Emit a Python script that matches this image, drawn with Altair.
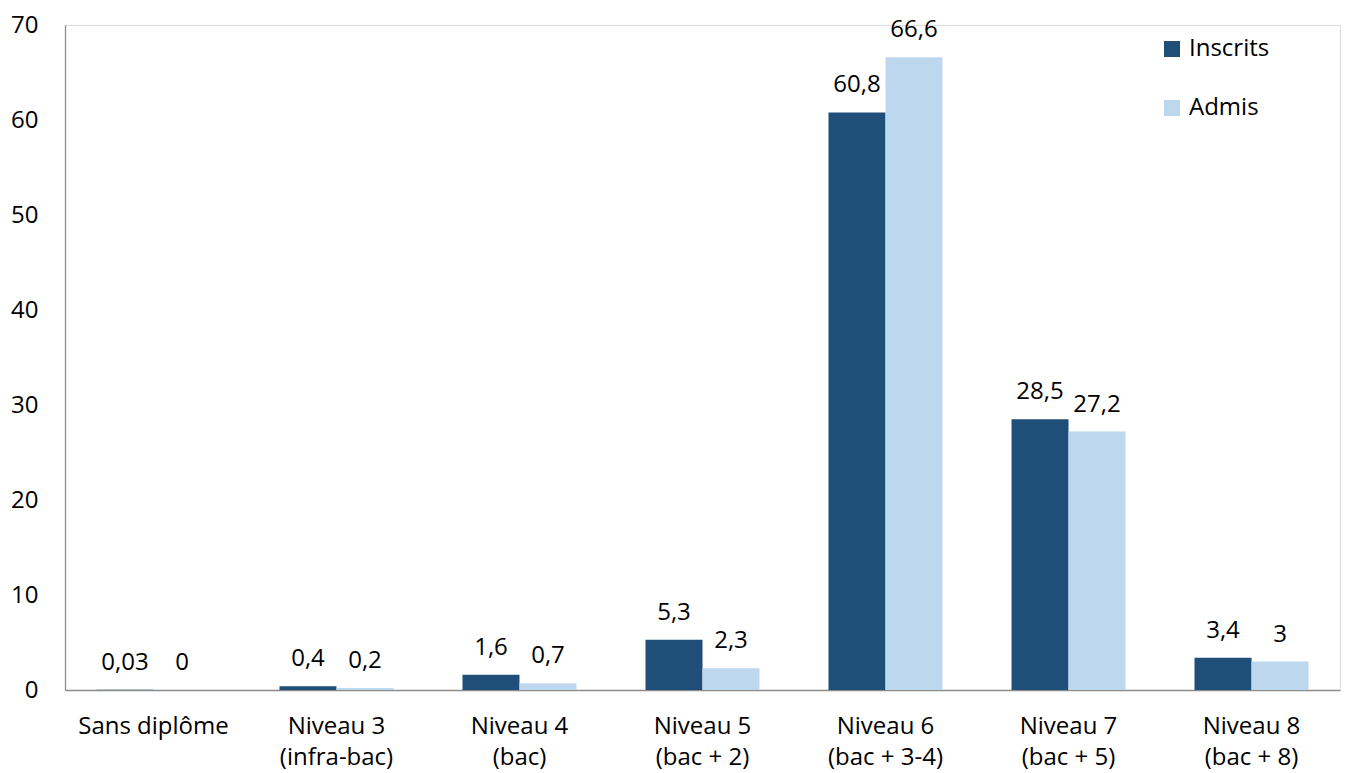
import altair as alt
import pandas as pd

# Répartition par niveau de diplôme (en %)
categories = [
    "Sans diplôme",
    "Niveau 3|(infra-bac)",
    "Niveau 4|(bac)",
    "Niveau 5|(bac + 2)",
    "Niveau 6|(bac + 3-4)",
    "Niveau 7|(bac + 5)",
    "Niveau 8|(bac + 8)",
]
inscrits = [0.03, 0.4, 1.6, 5.3, 60.8, 28.5, 3.4]
admis = [0, 0.2, 0.7, 2.3, 66.6, 27.2, 3]
series = ["Inscrits", "Admis"]
colors = ["#1F4E79", "#BDD7EE"]

rows = []
for cat, a, b in zip(categories, inscrits, admis):
    rows.append({"cat": cat, "serie": "Inscrits", "val": a})
    rows.append({"cat": cat, "serie": "Admis", "val": b})
df = pd.DataFrame(rows)

FONT = "Open Sans"
FS = 24

x = alt.X(
    "cat:N",
    sort=categories,
    scale=alt.Scale(paddingInner=0.377, paddingOuter=0.172),
    axis=alt.Axis(
        title=None,
        labelAngle=0,
        labelExpr="split(datum.label, '|')",
        labelFontSize=FS,
        labelFont=FONT,
        labelColor="#000000",
        labelPadding=24,
        labelLineHeight=31,
        ticks=False,
        domainColor="#8C8C8C",
        domainWidth=1.3,
    ),
)
xo = alt.XOffset("serie:N", sort=series, scale=alt.Scale(paddingInner=0, paddingOuter=0))
y = alt.Y(
    "val:Q",
    scale=alt.Scale(domain=[0, 70], nice=False),
    axis=alt.Axis(
        title=None,
        values=list(range(0, 71, 10)),
        grid=False,
        ticks=False,
        labelFontSize=FS,
        labelFont=FONT,
        labelColor="#000000",
        labelPadding=27,
        domainColor="#8C8C8C",
        domainWidth=1.3,
    ),
)
color = alt.Color(
    "serie:N",
    sort=series,
    scale=alt.Scale(domain=series, range=colors),
    legend=alt.Legend(
        title=None,
        orient="none",
        legendX=1095,
        legendY=12,
        symbolType="square",
        symbolSize=256,
        symbolStrokeWidth=0,
        labelFontSize=FS,
        labelFont=FONT,
        labelColor="#000000",
        rowPadding=35,
        labelOffset=5,
    ),
)

base = alt.Chart(df)
bars = base.mark_bar().encode(x=x, xOffset=xo, y=y, color=color)
labels = base.transform_calculate(
    lab="replace(toString(datum.val), '.', ',')"
).mark_text(
    baseline="alphabetic", dy=-20, fontSize=FS, font=FONT, color="#000000"
).encode(x=x, xOffset=xo, y=y, text="lab:N")

chart = (
    alt.layer(bars, labels)
    .properties(
        width=1275,
        height=665,
        autosize=alt.AutoSizeParams(type="none"),
        padding={"left": 65, "top": 25, "right": 9, "bottom": 83},
    )
    .configure_view(stroke=None)
    .configure(background="white")
)

chart.save("out.html", embed_options={"renderer": "svg", "actions": False})
